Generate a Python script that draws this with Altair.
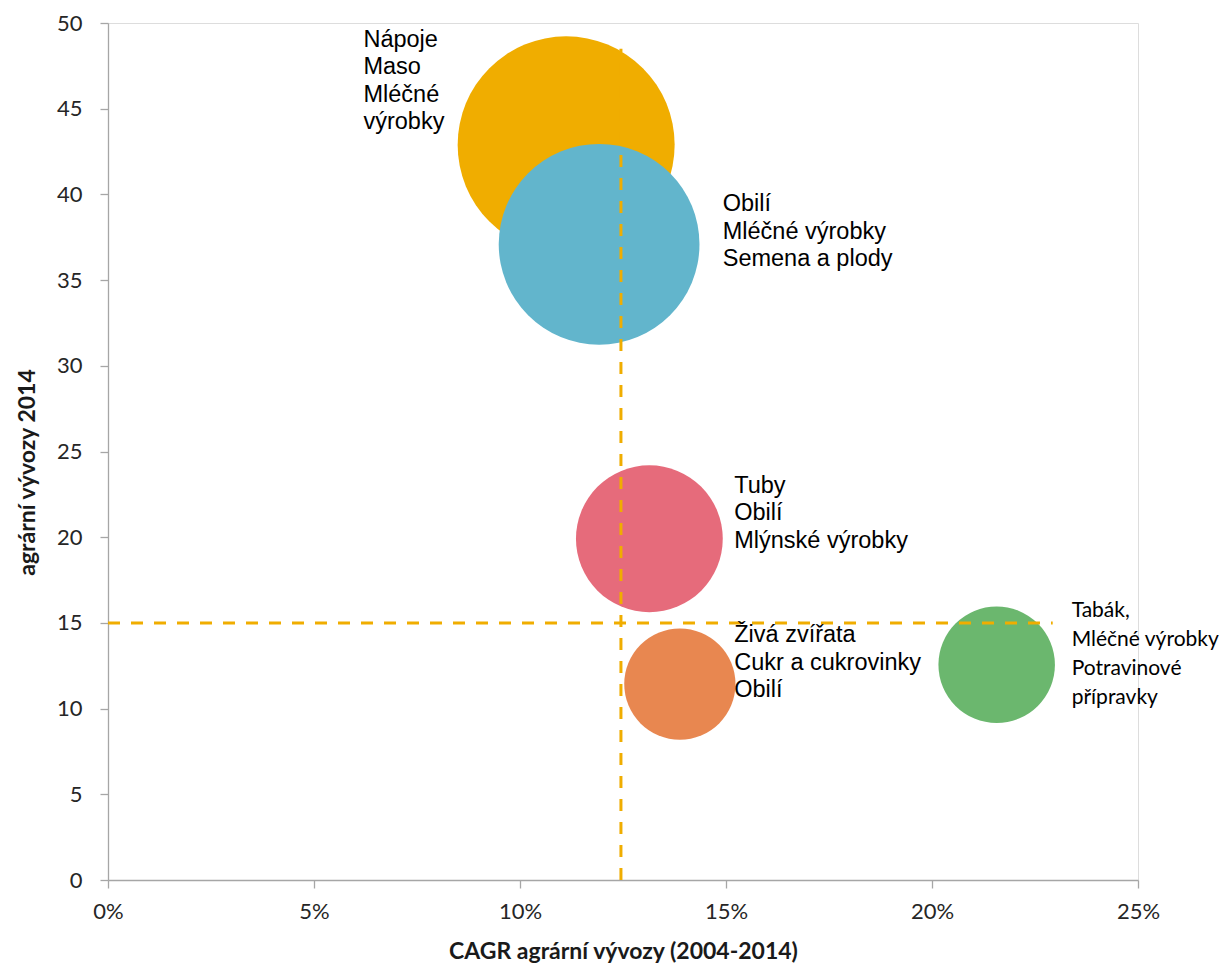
import altair as alt
import pandas as pd

# Bubble data
skupina = ["Nápoje/Maso/Mléčné", "Obilí/Mléčné/Semena", "Tuby/Obilí/Mlýnské", "Živá zvířata/Cukr/Obilí", "Tabák/Mléčné/Potraviny"]
cagr = [11.12, 11.92, 13.14, 13.88, 21.57]          # % CAGR 2004-2014
vyvozy = [42.89, 37.09, 19.91, 11.43, 12.56]       # agrární vývozy 2014
velikost = [11.8, 10.1, 5.4, 3.1, 3.4]             # bubble size
barvy = ["#F0AD00", "#62B5CC", "#E66B7B", "#E88750", "#6BB76E"]

# Labels
popisky = [
    "Nápoje\nMaso\nMléčné\nvýrobky",
    "Obilí\nMléčné výrobky\nSemena a plody",
    "Tuby\nObilí\nMlýnské výrobky",
    "Živá zvířata\nCukr a cukrovinky\nObilí",
]
popisky_x = [6.20, 14.92, 15.20, 15.20]
popisky_y = [48.6, 39.01, 22.57, 13.87]

popisek_zeleny = ["Tabák,\nMléčné výrobky\nPotravinové\npřípravky"]
popisek_zeleny_x = [23.39]
popisek_zeleny_y = [15.37]

# Reference lines
prumer_cagr = 12.45
prumer_cagr_top = 48.5
prumer_vyvozy = 15.0
prumer_vyvozy_right = 22.93

x_ticks = [0, 5, 10, 15, 20, 25]
y_ticks = [0, 5, 10, 15, 20, 25, 30, 35, 40, 45, 50]

df = pd.DataFrame({"skupina": skupina, "cagr": cagr, "vyvozy": vyvozy,
                   "velikost": velikost, "poradi": list(range(len(skupina)))})
df_lab = pd.DataFrame({"text": popisky, "x": popisky_x, "y": popisky_y})
df_lab2 = pd.DataFrame({"text": popisek_zeleny, "x": popisek_zeleny_x, "y": popisek_zeleny_y})
df_v = pd.DataFrame({"x": [prumer_cagr], "y": [0], "y2": [prumer_cagr_top]})
df_h = pd.DataFrame({"y": [prumer_vyvozy], "x": [0], "x2": [prumer_vyvozy_right]})

xscale = alt.Scale(domain=[0, 25], nice=False, zero=True)
yscale = alt.Scale(domain=[0, 50], nice=False, zero=True)

axis_common = dict(
    grid=False, domainColor="#A6A6A6", tickColor="#A6A6A6", domainWidth=1.3, tickWidth=1.3,
    tickSize=8, labelFont="Lato", labelFontSize=22, labelColor="#262626", labelFlush=False,
    titleFont="Lato", titleFontSize=23, titleFontWeight="bold", titleColor="#1a1a1a",
)

bubbles = alt.Chart(df).mark_circle(opacity=1, strokeWidth=0).encode(
    x=alt.X("cagr:Q", scale=xscale,
            axis=alt.Axis(values=x_ticks, labelExpr="datum.value + '%'",
                          title="CAGR agrární vývozy (2004-2014)", labelPadding=13,
                          titleY=71, titleBaseline="middle", **axis_common)),
    y=alt.Y("vyvozy:Q", scale=yscale,
            axis=alt.Axis(values=y_ticks, title="agrární vývozy 2014", labelPadding=18,
                          titleX=-81, titleY=449, titleAngle=270, titleBaseline="middle",
                          **axis_common)),
    size=alt.Size("velikost:Q", scale=alt.Scale(domain=[0, 12], range=[0, 47890]), legend=None),
    color=alt.Color("skupina:N", scale=alt.Scale(domain=skupina, range=barvy), legend=None),
    order=alt.Order("poradi:Q"),
)

vline = alt.Chart(df_v).mark_rule(color="#F0AD00", strokeWidth=3, strokeDash=[12, 11]).encode(
    x=alt.X("x:Q", scale=xscale), y=alt.Y("y:Q", scale=yscale), y2="y2:Q")
hline = alt.Chart(df_h).mark_rule(color="#F0AD00", strokeWidth=3, strokeDash=[12, 11]).encode(
    y=alt.Y("y:Q", scale=yscale), x=alt.X("x:Q", scale=xscale), x2="x2:Q")

labels = alt.Chart(df_lab).mark_text(
    align="left", baseline="alphabetic", font="Liberation Sans", fontSize=23.5,
    lineHeight=27.3, color="#000000", lineBreak="\n").encode(
    x=alt.X("x:Q", scale=xscale), y=alt.Y("y:Q", scale=yscale), text="text:N")

labels2 = alt.Chart(df_lab2).mark_text(
    align="left", baseline="alphabetic", font="Lato", fontSize=21,
    lineHeight=29, color="#000000", lineBreak="\n").encode(
    x=alt.X("x:Q", scale=xscale), y=alt.Y("y:Q", scale=yscale), text="text:N")

chart = alt.layer(bubbles, vline, hline, labels, labels2).properties(
    width=1030, height=857,
    autosize=alt.AutoSizeParams(type="none"),
    padding={"left": 100, "top": 15, "right": 83, "bottom": 86},
).configure_view(stroke=None).configure(background="white")

chart.save("out.html", embed_options={"renderer": "svg", "actions": False})
